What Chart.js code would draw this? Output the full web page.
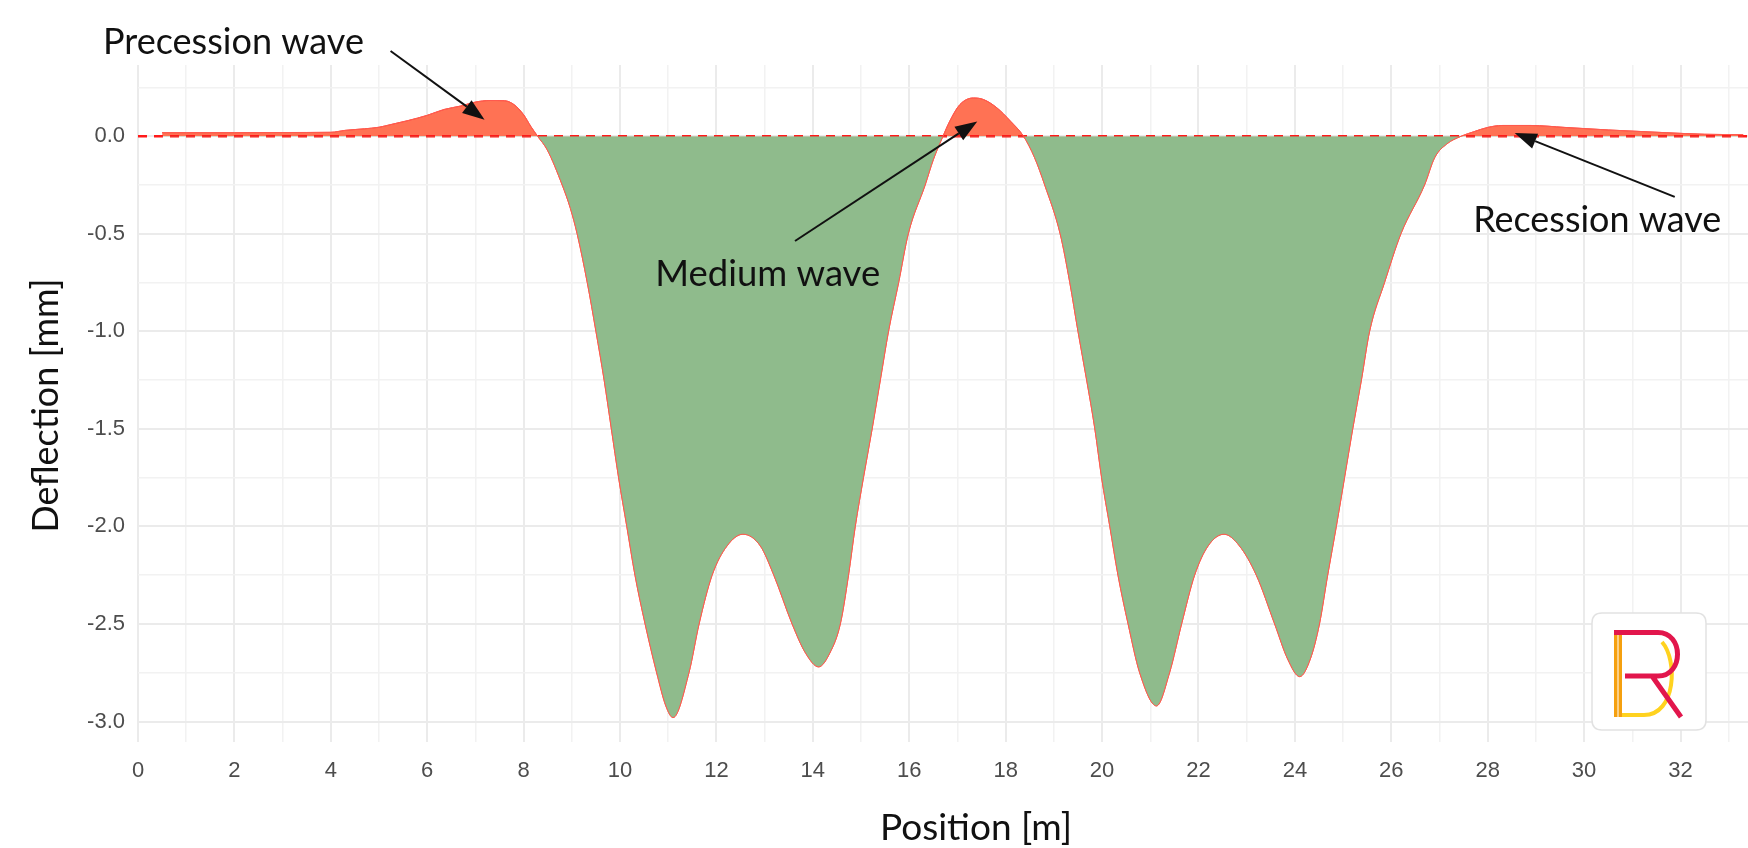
<!DOCTYPE html>
<html>
<head>
<meta charset="utf-8">
<script src="https://cdn.jsdelivr.net/npm/chart.js@4.4.0/dist/chart.umd.min.js"></script>
<style>
html,body{margin:0;padding:0;background:#ffffff;}
#wrap{width:1748px;height:848px;}
</style>
</head>
<body>
<div id="wrap"><canvas id="c" width="1748" height="848"></canvas></div>
<script>
// ---- data ----
const positions = [0.5,1,2,3,4,4.3,4.7,5.0,5.25,5.6,6.0,6.35,6.7,7.0,7.3,7.6,7.8,8.0,8.15,8.29,
  8.49,8.8,8.97,9.11,9.32,9.5,9.67,9.82,9.97,10.14,10.31,10.52,10.76,10.95,11.1,11.43,11.64,11.91,12.22,12.55,12.91,
  13.19,13.57,13.85,14.12,14.35,14.57,14.74,14.88,15.05,15.23,15.4,15.57,15.78,15.98,16.33,16.5,16.7,16.84,17.05,17.33,
  17.54,17.82,18.1,18.37,18.6,18.81,19.13,19.33,19.5,19.68,19.85,19.99,20.16,20.33,20.54,20.78,21.13,21.4,21.65,21.92,
  22.2,22.53,22.85,23.2,23.58,23.85,24.1,24.32,24.51,24.68,24.86,25.03,25.2,25.38,25.55,25.86,26.2,26.69,26.9,27.15,
  27.45,27.7,28.0,28.3,28.9,29.6,30.5,31.7,32.5,33.3];
const deflection = [0.018,0.018,0.018,0.019,0.02,0.03,0.038,0.046,0.06,0.08,0.107,0.137,0.155,0.175,0.183,0.182,0.162,0.11,0.05,0,
  -0.07,-0.25,-0.37,-0.5,-0.75,-1.0,-1.25,-1.5,-1.75,-2.0,-2.25,-2.5,-2.75,-2.92,-2.98,-2.75,-2.5,-2.25,-2.1,-2.04,-2.1,
  -2.25,-2.5,-2.65,-2.72,-2.65,-2.5,-2.25,-2.0,-1.75,-1.5,-1.25,-1.0,-0.75,-0.5,-0.25,-0.12,0,0.077,0.162,0.196,
  0.188,0.145,0.077,0,-0.11,-0.25,-0.5,-0.75,-1.0,-1.25,-1.5,-1.75,-2.0,-2.25,-2.5,-2.75,-2.92,-2.75,-2.5,-2.25,
  -2.1,-2.04,-2.1,-2.25,-2.5,-2.68,-2.77,-2.68,-2.5,-2.25,-2.0,-1.75,-1.5,-1.25,-1.0,-0.75,-0.5,-0.25,-0.11,-0.04,
  0,0.022,0.045,0.055,0.055,0.045,0.032,0.018,0.01,0.008];
const zeroLineX = [0, 33.4];
const zeroLineY = [0, 0];
const xTickValues = [0,2,4,6,8,10,12,14,16,18,20,22,24,26,28,30,32];
const xTickLabels = ['0','2','4','6','8','10','12','14','16','18','20','22','24','26','28','30','32'];
const yTickValues = [0,-0.5,-1,-1.5,-2,-2.5,-3];
const yTickLabels = ['0.0','-0.5','-1.0','-1.5','-2.0','-2.5','-3.0'];
const annotationLabels = ['Precession wave','Medium wave','Recession wave'];
const xTitle = 'Position [m]';
const yTitle = 'Deflection [mm]';

// ---- layout / style (not data) ----
const annotationLayout = [
  {left:-0.726, baseline:0.42, width:261, from:[5.24,0.437], to:[7.19,0.085]},
  {left:10.73, baseline:-0.768, width:225, from:[13.63,-0.537], to:[17.41,0.076]},
  {left:27.7, baseline:-0.49, width:248, from:[31.88,-0.311], to:[28.56,0.017]}
];
const TEXT_FONT = 'Lato';
const TICK_FONT = '"Liberation Sans", Arial, sans-serif';

function fitFont(ctx, text, family, targetWidth) {
  ctx.font = '100px ' + family;
  const w = ctx.measureText(text).width;
  return 100 * targetWidth / w;
}

function drawArrow(ctx, x1, y1, x2, y2) {
  const ang = Math.atan2(y2 - y1, x2 - x1);
  const headLen = 22, headHalf = 8;
  const bx = x2 - headLen * Math.cos(ang), by = y2 - headLen * Math.sin(ang);
  ctx.save();
  ctx.strokeStyle = '#111111';
  ctx.fillStyle = '#111111';
  ctx.lineWidth = 2;
  ctx.beginPath();
  ctx.moveTo(x1, y1);
  ctx.lineTo(bx, by);
  ctx.stroke();
  ctx.beginPath();
  ctx.moveTo(x2, y2);
  ctx.lineTo(bx + headHalf * Math.sin(ang), by - headHalf * Math.cos(ang));
  ctx.lineTo(bx - headHalf * Math.sin(ang), by + headHalf * Math.cos(ang));
  ctx.closePath();
  ctx.fill();
  ctx.restore();
}

function roundRect(ctx, x, y, w, h, r) {
  ctx.beginPath();
  ctx.moveTo(x + r, y);
  ctx.lineTo(x + w - r, y);
  ctx.quadraticCurveTo(x + w, y, x + w, y + r);
  ctx.lineTo(x + w, y + h - r);
  ctx.quadraticCurveTo(x + w, y + h, x + w - r, y + h);
  ctx.lineTo(x + r, y + h);
  ctx.quadraticCurveTo(x, y + h, x, y + h - r);
  ctx.lineTo(x, y + r);
  ctx.quadraticCurveTo(x, y, x + r, y);
  ctx.closePath();
}

const decorPlugin = {
  id: 'decor',
  afterDraw(chart) {
    const c = chart.ctx, xs = chart.scales.x, ys = chart.scales.y, area = chart.chartArea;
    // annotations
    annotationLabels.forEach((t, i) => {
      const L = annotationLayout[i];
      const size = fitFont(c, t, TEXT_FONT, L.width);
      c.save();
      c.font = size.toFixed(2) + 'px ' + TEXT_FONT;
      c.fillStyle = '#111111';
      c.textAlign = 'left';
      c.textBaseline = 'alphabetic';
      c.fillText(t, xs.getPixelForValue(L.left), ys.getPixelForValue(L.baseline));
      c.restore();
      drawArrow(c, xs.getPixelForValue(L.from[0]), ys.getPixelForValue(L.from[1]),
                   xs.getPixelForValue(L.to[0]), ys.getPixelForValue(L.to[1]));
    });
    // axis titles
    c.save();
    c.fillStyle = '#111111';
    let size = fitFont(c, xTitle, TEXT_FONT, 192);
    c.font = size.toFixed(2) + 'px ' + TEXT_FONT;
    c.textAlign = 'center';
    c.textBaseline = 'alphabetic';
    c.fillText(xTitle, 976, 840);
    size = fitFont(c, yTitle, TEXT_FONT, 254);
    c.font = size.toFixed(2) + 'px ' + TEXT_FONT;
    c.translate(58, (area.top + area.bottom) / 2 + 2);
    c.rotate(-Math.PI / 2);
    c.fillText(yTitle, 0, 0);
    c.restore();
    // logo
    const bx = area.right - 156, by = area.bottom - 129, bw = 114, bh = 117;
    c.save();
    roundRect(c, bx, by, bw, bh, 10);
    c.fillStyle = '#ffffff';
    c.fill();
    c.strokeStyle = '#e2e2e2';
    c.lineWidth = 1.5;
    c.stroke();
    const ox = bx + 22, oy = by + 17, H = 87;
    // orange double bar
    c.fillStyle = '#F5A00F';
    c.fillRect(ox, oy, 3.5, H);
    c.fillRect(ox + 4.5, oy, 3.5, H);
    // yellow D
    c.strokeStyle = '#FFD21F';
    c.lineWidth = 4;
    c.beginPath();
    c.moveTo(ox + 8, oy + H - 2);
    c.lineTo(ox + 30, oy + H - 2);
    c.bezierCurveTo(ox + 62, oy + H - 2, ox + 64, oy + 30, ox + 48, oy + 12);
    c.stroke();
    // red R
    c.strokeStyle = '#E2164C';
    c.fillStyle = '#E2164C';
    c.lineWidth = 5;
    c.fillRect(ox, oy, 8, 5);
    c.beginPath();
    c.moveTo(ox, oy + 2.5);
    c.lineTo(ox + 44, oy + 2.5);
    c.bezierCurveTo(ox + 70, oy + 2.5, ox + 70, oy + 46, ox + 44, oy + 46);
    c.lineTo(ox + 11, oy + 46);
    c.moveTo(ox + 38, oy + 46);
    c.lineTo(ox + 67, oy + H);
    c.stroke();
    c.restore();
  }
};

const curve = positions.map((x, i) => ({x: x, y: deflection[i]}));
const zeroLine = zeroLineX.map((x, i) => ({x: x, y: zeroLineY[i]}));

function xLabel(v) {
  const i = xTickValues.findIndex(t => Math.abs(t - v) < 1e-6);
  return i >= 0 ? xTickLabels[i] : '';
}
function yLabel(v) {
  const i = yTickValues.findIndex(t => Math.abs(t - v) < 1e-6);
  return i >= 0 ? yTickLabels[i] : '';
}

new Chart(document.getElementById('c').getContext('2d'), {
  type: 'line',
  data: {
    datasets: [
      {
        label: 'positive', data: curve, order: 3,
        borderColor: '#FF4A3D', borderWidth: 1, pointRadius: 0,
        cubicInterpolationMode: 'monotone',
        fill: {target: 'origin', above: '#FF7254', below: 'rgba(0,0,0,0)'}
      },
      {
        label: 'zero', data: zeroLine, order: 2,
        borderColor: '#FF1A1A', borderWidth: 2.5, borderDash: [9, 7], pointRadius: 0, fill: false
      },
      {
        label: 'negative', data: curve, order: 1,
        borderColor: '#FF5A4E', borderWidth: 1, pointRadius: 0,
        cubicInterpolationMode: 'monotone',
        fill: {target: 'origin', above: 'rgba(0,0,0,0)', below: '#8FBB8C'}
      }
    ]
  },
  options: {
    responsive: false,
    animation: false,
    events: [],
    layout: {padding: {top: 65, left: 0, right: 0, bottom: 0}},
    plugins: {legend: {display: false}, tooltip: {enabled: false}},
    scales: {
      x: {
        type: 'linear', min: 0, max: 33.4,
        afterFit(s) { s.height = 106; },
        border: {display: false},
        grid: {
          drawTicks: false,
          color: (c) => (Math.round(c.tick.value) % 2 === 0 ? '#EBEBEB' : '#F2F2F2'),
          lineWidth: (c) => (Math.round(c.tick.value) % 2 === 0 ? 2 : 1.5)
        },
        ticks: {
          stepSize: 1, includeBounds: false, autoSkip: false, maxRotation: 0, minRotation: 0,
          padding: 16, color: '#4D4D4D', font: {family: TICK_FONT, size: 22},
          callback: (v) => xLabel(v)
        }
      },
      y: {
        type: 'linear', min: -3.105, max: 0.365,
        afterFit(s) { s.width = 138; },
        border: {display: false},
        grid: {
          drawTicks: false,
          color: (c) => (Math.abs(c.tick.value * 2 - Math.round(c.tick.value * 2)) < 1e-6 ? '#EBEBEB' : '#F2F2F2'),
          lineWidth: (c) => (Math.abs(c.tick.value * 2 - Math.round(c.tick.value * 2)) < 1e-6 ? 2 : 1.5)
        },
        ticks: {
          stepSize: 0.25, includeBounds: false, autoSkip: false,
          padding: 13, color: '#4D4D4D', font: {family: TICK_FONT, size: 22},
          callback: (v) => yLabel(v)
        }
      }
    }
  },
  plugins: [decorPlugin]
});
</script>
</body>
</html>
